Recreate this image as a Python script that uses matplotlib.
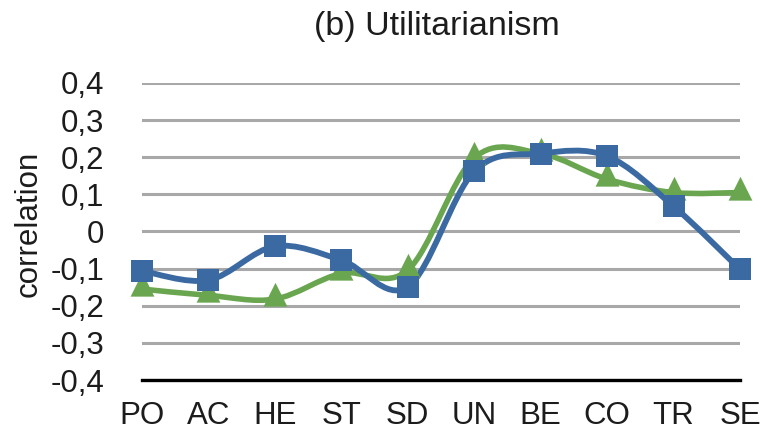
import matplotlib
matplotlib.use("Agg")
import matplotlib.pyplot as plt
from matplotlib.path import Path
from matplotlib.patches import PathPatch
from matplotlib.markers import MarkerStyle
import numpy as np

plt.rcParams['font.family'] = ['Liberation Sans', 'DejaVu Sans']

# data
categories = ['PO', 'AC', 'HE', 'ST', 'SD', 'UN', 'BE', 'CO', 'TR', 'SE']
green_vals = [-0.155, -0.172, -0.182, -0.113, -0.104, 0.198, 0.21, 0.141, 0.105, 0.105]
blue_vals = [-0.106, -0.131, -0.040, -0.077, -0.149, 0.162, 0.210, 0.203, 0.068, -0.102]
ytick_vals = [-0.4, -0.3, -0.2, -0.1, 0.0, 0.1, 0.2, 0.3, 0.4]
ytick_labels = ['-0,4', '-0,3', '-0,2', '-0,1', '0', '0,1', '0,2', '0,3', '0,4']
title = '(b) Utilitarianism'
ylabel = 'correlation'

BLUE = '#3B6AA2'
GREEN = '#6AA64F'
TXT = '#1c1c1c'


def smooth_path(xs, ys):
    # bezier segments like office "smoothed line" (catmull-rom control points)
    pts = np.column_stack([xs, ys]).astype(float)
    n = len(pts)
    verts = [pts[0]]
    codes = [Path.MOVETO]
    for i in range(n - 1):
        p0 = pts[i - 1] if i > 0 else pts[i]
        p1 = pts[i]
        p2 = pts[i + 1]
        p3 = pts[i + 2] if i + 2 < n else pts[i + 1]
        c1 = p1 + (p2 - p0) / 6.0
        c2 = p2 - (p3 - p1) / 6.0
        verts += [c1, c2, p2]
        codes += [Path.CURVE4] * 3
    return Path(verts, codes)


# triangle sitting a bit above the data point, like the original
tri = MarkerStyle(Path([(0, 1.4), (-1, -0.6), (1, -0.6), (0, 1.4)],
                       [Path.MOVETO, Path.LINETO, Path.LINETO, Path.CLOSEPOLY]))

fig = plt.figure(figsize=(7.61, 4.33), dpi=100)
ax = fig.add_axes([142 / 761, 1 - 380 / 433, 598 / 761, 297 / 433])

x = np.arange(len(categories))

for vals, col, mk, ms, lw in [(green_vals, GREEN, tri, 24, 4.0),
                              (blue_vals, BLUE, 's', 16.5, 4.2)]:
    patch = PathPatch(smooth_path(x, vals), facecolor='none', edgecolor=col,
                      lw=lw, capstyle='round', joinstyle='round', zorder=3)
    patch.set_clip_on(False)
    ax.add_patch(patch)
    ax.plot(x, vals, linestyle='none', marker=mk, markersize=ms, color=col,
            markeredgewidth=0, zorder=4, clip_on=False)

ax.set_xlim(0, len(categories) - 1)
ax.set_ylim(-0.4, 0.4)
ax.set_yticks(ytick_vals)
ax.set_yticklabels(ytick_labels)
ax.set_xticks(x)
ax.set_xticklabels(categories)
ax.tick_params(axis='both', length=0, labelsize=22.5, colors=TXT)
ax.tick_params(axis='y', pad=27)
ax.tick_params(axis='x', pad=15)

ax.yaxis.grid(True, color='#A8A8A8', lw=2.2)
ax.set_axisbelow(True)
for s in ['top', 'left', 'right']:
    ax.spines[s].set_visible(False)
ax.spines['bottom'].set_color('black')
ax.spines['bottom'].set_linewidth(2.4)
ax.spines['bottom'].set_zorder(2)

fig.text(437 / 761, 1 - 27 / 433, title, ha='center', va='center',
         fontsize=24.5, color=TXT)
fig.text(29 / 761, 1 - 224 / 433, ylabel, ha='center', va='center',
         rotation=90, fontsize=22.5, color=TXT)

fig.savefig('out.png', dpi=100)
